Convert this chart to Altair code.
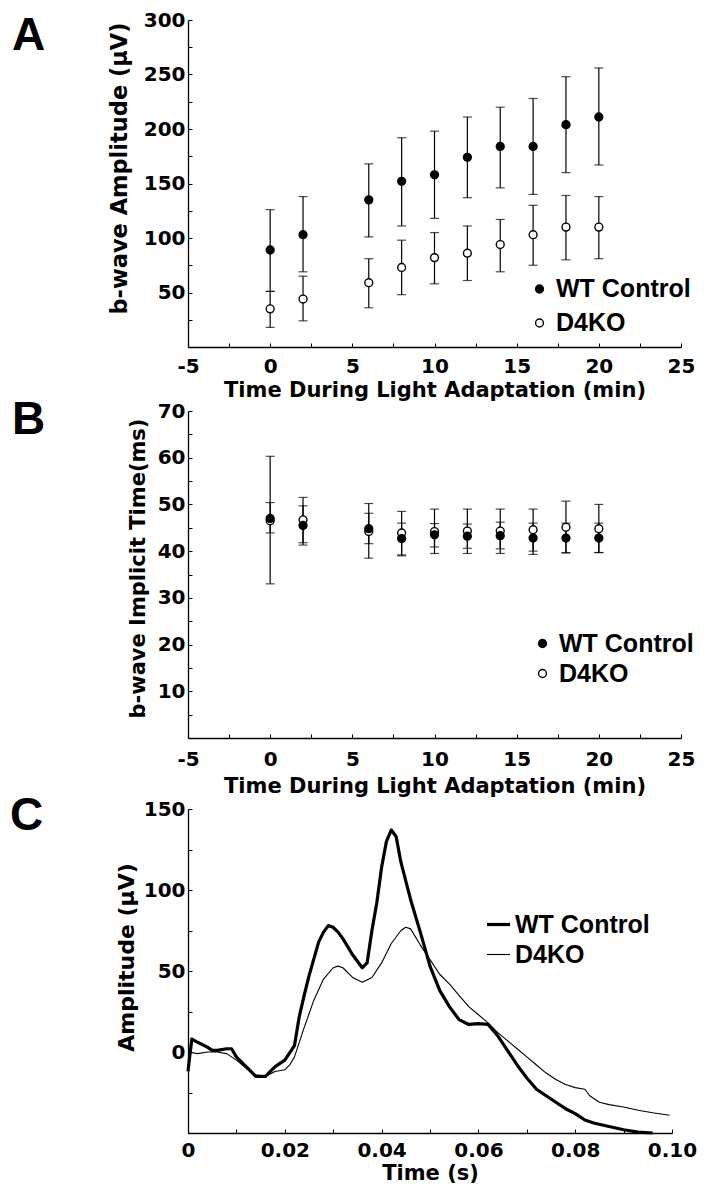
import altair as alt
import pandas as pd

SERIES = ["WT Control", "D4KO"]
PANEL_LABELS = ["A", "B", "C"]

# ---- Panel A: b-wave amplitude ----
TIME_MIN = [0, 2, 6, 8, 10, 12, 14, 16, 18, 20]
A_WT_MEAN = [89, 103, 135, 152, 158, 174, 184, 184, 204, 211]
A_WT_HI = [126, 138, 168, 192, 198, 211, 220, 228, 248, 256]
A_WT_LO = [51, 69, 101, 111, 118, 137, 146, 140, 160, 167]
A_KO_MEAN = [35, 44, 59, 73, 82, 86, 94, 103, 110, 110]
A_KO_HI = [51, 65, 81, 98, 105, 111, 117, 130, 139, 138]
A_KO_LO = [18, 24, 36, 48, 58, 61, 69, 75, 80, 81]

# ---- Panel B: b-wave implicit time ----
B_WT_MEAN = [47.0, 45.5, 44.8, 42.7, 43.5, 43.2, 43.3, 42.8, 42.8, 42.8]
B_WT_HI = [50.4, 49.7, 48.1, 46.0, 45.9, 45.8, 46.2, 46.0, 46.0, 46.0]
B_WT_LO = [43.9, 41.3, 41.6, 39.0, 40.9, 40.6, 40.5, 40.0, 39.7, 39.7]
B_KO_MEAN = [46.5, 46.7, 44.2, 43.9, 44.2, 44.3, 44.3, 44.6, 45.1, 44.8]
B_KO_HI = [60.3, 51.5, 50.2, 48.5, 49.0, 49.0, 49.0, 49.0, 50.7, 50.0]
B_KO_LO = [33.0, 41.8, 38.5, 39.2, 39.5, 39.5, 39.5, 39.3, 39.6, 39.7]

# ---- Panel C: ERG traces ----
C_T_WT = [0.0, 0.0003, 0.0008, 0.002, 0.004, 0.005, 0.006, 0.008, 0.009, 0.010,
          0.012, 0.014, 0.016, 0.018, 0.020, 0.022, 0.023, 0.024, 0.025, 0.027,
          0.028, 0.029, 0.030, 0.031, 0.032, 0.034, 0.036, 0.037, 0.038, 0.039,
          0.040, 0.041, 0.042, 0.043, 0.044, 0.046, 0.048, 0.050, 0.052, 0.054,
          0.056, 0.058, 0.060, 0.062, 0.064, 0.066, 0.068, 0.070, 0.072, 0.074,
          0.076, 0.078, 0.080, 0.082, 0.084, 0.087, 0.090, 0.093, 0.096]
C_A_WT = [-12, -4, 8, 6, 3, 1, 1, 2, 2, -3,
          -9, -15, -15, -9, -5, 4, 22, 35, 47, 68,
          74, 78, 77, 74, 70, 60, 52, 55, 75, 92,
          114, 130, 137, 133, 117, 94, 74, 53, 38, 28,
          20, 17, 17.5, 17, 10, 1, -8, -16, -23, -27,
          -31, -35, -38, -42, -44, -46, -48, -49.5, -50]
C_T_KO = [0.0, 0.002, 0.004, 0.006, 0.008, 0.010, 0.012, 0.014, 0.016, 0.018,
          0.020, 0.021, 0.022, 0.024, 0.026, 0.028, 0.030, 0.031, 0.032, 0.034,
          0.036, 0.038, 0.040, 0.042, 0.044, 0.045, 0.046, 0.048, 0.050, 0.052,
          0.054, 0.056, 0.058, 0.060, 0.062, 0.064, 0.066, 0.068, 0.070, 0.072,
          0.074, 0.076, 0.078, 0.080, 0.082, 0.083, 0.085, 0.087, 0.090, 0.093,
          0.096, 0.0995]
C_A_KO = [0, -1, 0, 0, -1, -5, -10, -14, -15, -12,
          -11, -8, -3, 15, 32, 45, 52, 53, 52, 46,
          43, 46, 55, 67, 75, 77, 76, 66, 57, 48,
          42, 35, 28, 23, 18, 12, 7, 2, -3, -8,
          -13, -17, -20, -22, -23, -27, -31, -32.5, -34, -36,
          -37.5, -39]

# axis tick values (every tick; labels shown only on the major ones)
AB_X_TICKS = [-5, -2.5, 0, 2.5, 5, 7.5, 10, 12.5, 15, 17.5, 20, 22.5, 25]
A_Y_TICKS = [0, 25, 50, 75, 100, 125, 150, 175, 200, 225, 250, 275, 300]
B_Y_TICKS = [0, 5, 10, 15, 20, 25, 30, 35, 40, 45, 50, 55, 60, 65, 70]
C_X_TICKS = [0, 0.01, 0.02, 0.03, 0.04, 0.05, 0.06, 0.07, 0.08, 0.09, 0.10]
C_Y_TICKS = [-50, -25, 0, 25, 50, 75, 100, 125, 150]

FA = "DejaVu Sans"
FL = "Liberation Sans"

W_AB, H_A, H_B = 493, 327, 327
W_C, H_C = 484, 324
INWARD = {"expr": "-4"}


def err_df(wm, wl, wh, km, kl, kh):
    rows = []
    for s, m, lo, hi in [(SERIES[1], km, kl, kh), (SERIES[0], wm, wl, wh)]:
        for t, a, b, c in zip(TIME_MIN, m, lo, hi):
            rows.append({"t": t, "mean": a, "lo": b, "hi": c, "series": s})
    return pd.DataFrame(rows)


def x_axis(vals, title, expr, lpad, tpad):
    return alt.Axis(orient="bottom", values=vals, ticks=True, tickSize=INWARD,
                    tickColor="black", tickWidth=1,
                    domain=True, domainColor="black", domainWidth=1.3, grid=False,
                    labelFont=FA, labelFontSize=20, labelFontWeight="bold",
                    labelColor="black", labelPadding=lpad, labelOverlap=False,
                    labelFlush=False, labelExpr=expr,
                    title=title, titleFont=FA, titleFontSize=21,
                    titleFontWeight="bold", titleColor="black", titlePadding=tpad)


def y_axis(vals, expr, title, tsize, tx, ty, lpad):
    return alt.Axis(orient="left", values=vals, ticks=True, tickSize=INWARD,
                    tickColor="black", tickWidth=1,
                    domain=True, domainColor="black", domainWidth=1.3, grid=False,
                    labelFont=FA, labelFontSize=20, labelFontWeight="bold",
                    labelColor="black", labelPadding=lpad, labelOverlap=False,
                    labelFlush=False, labelExpr=expr,
                    title=title, titleFont=FA, titleFontSize=tsize,
                    titleFontWeight="bold", titleColor="black",
                    titleX=tx, titleY=ty, titleAngle=270, titleAlign="center",
                    titleBaseline="alphabetic")


def point_legend(lx, ly, rowpad):
    return alt.Legend(title=None, orient="none", legendX=lx, legendY=ly,
                      labelFont=FL, labelFontSize=25, labelFontWeight="bold",
                      labelColor="black", symbolStrokeColor="black",
                      symbolStrokeWidth=1.4, symbolSize=62, symbolType="circle",
                      rowPadding=rowpad, labelOffset=4, padding=0)


def panel_label(i, x, y):
    return alt.Chart(alt.Data(values=[{"p": PANEL_LABELS[i]}])).mark_text(
        align="left", baseline="alphabetic", font=FL, fontSize=46,
        fontWeight="bold", color="black"
    ).encode(text="p:N", x=alt.value(x), y=alt.value(y))


def err_panel(df, ydom, yticks, yexpr, ytitle, tsize, tx, ty, H, legend,
              li, lx, ly, xlpad, xtpad):
    xs = alt.Scale(domain=[-5, 25], nice=False, zero=False)
    ys = alt.Scale(domain=ydom, nice=False, zero=False)
    base = alt.Chart(df)
    bars = base.mark_rule(color="black", strokeWidth=1.2).encode(
        x=alt.X("t:Q", scale=xs, axis=None),
        y=alt.Y("lo:Q", scale=ys, axis=None),
        y2="hi:Q",
    )
    cap_lo = base.mark_tick(orient="horizontal", size=9, thickness=1.2, color="black").encode(
        x=alt.X("t:Q", axis=None), y=alt.Y("lo:Q", axis=None))
    cap_hi = base.mark_tick(orient="horizontal", size=9, thickness=1.2, color="black").encode(
        x=alt.X("t:Q", axis=None), y=alt.Y("hi:Q", axis=None))
    pts = base.mark_point(shape="circle", size=62, stroke="black", strokeWidth=1.4,
                          opacity=1, fillOpacity=1).encode(
        x=alt.X("t:Q", scale=xs,
                axis=x_axis(AB_X_TICKS, "Time During Light Adaptation (min)",
                            "datum.value % 5 == 0 ? '' + datum.value : ''", xlpad, xtpad)),
        y=alt.Y("mean:Q", scale=ys, axis=y_axis(yticks, yexpr, ytitle, tsize, tx, ty, 7)),
        fill=alt.Fill("series:N", scale=alt.Scale(domain=SERIES, range=["black", "white"]),
                      legend=legend),
    )
    return alt.layer(bars, cap_lo, cap_hi, pts, panel_label(li, lx, ly)).resolve_axis(
        x="independent", y="independent").properties(width=W_AB, height=H)


dfA = err_df(A_WT_MEAN, A_WT_LO, A_WT_HI, A_KO_MEAN, A_KO_LO, A_KO_HI)
dfB = err_df(B_WT_MEAN, B_WT_LO, B_WT_HI, B_KO_MEAN, B_KO_LO, B_KO_HI)

chartA = err_panel(dfA, [0, 300], A_Y_TICKS,
                   "datum.value % 50 == 0 && datum.value > 0 ? datum.label : ''",
                   "b-wave Amplitude (μV)", 22.5, -62, 148, H_A,
                   point_legend(339, 256.5, 8), 0, -176, 30, 13, 3)
chartB = err_panel(dfB, [0, 70], B_Y_TICKS,
                   "datum.value % 10 == 0 && datum.value > 0 ? datum.label : ''",
                   "b-wave Implicit Time(ms)", 21, -44, 157, H_B,
                   point_legend(342, 220, 4), 1, -176, 23, 15, 6)

rows = []
for t, a in zip(C_T_WT, C_A_WT):
    rows.append({"time": t, "amp": a, "series": SERIES[0]})
for t, a in zip(C_T_KO, C_A_KO):
    rows.append({"time": t, "amp": a, "series": SERIES[1]})
dfC = pd.DataFrame(rows)

legC = alt.Legend(title=None, orient="none", legendX=297, legendY=102,
                  labelFont=FL, labelFontSize=25, labelFontWeight="bold",
                  labelColor="black", symbolStrokeColor="black", symbolType="stroke",
                  symbolSize=530, rowPadding=4, labelOffset=3, padding=0)
xsC = alt.Scale(domain=[0, 0.1], nice=False, zero=False)
ysC = alt.Scale(domain=[-50, 150], nice=False, zero=False)
swC = alt.Scale(domain=SERIES, range=[3.2, 1.1])

C_X_EXPR = ("round(datum.value * 100) % 2 == 0 ? "
            "(datum.value == 0 ? '0' : format(datum.value, '.2f')) : ''")
C_Y_EXPR = "datum.value % 50 == 0 && datum.value >= 0 ? datum.label : ''"

thin = alt.Chart(dfC).transform_filter(alt.datum.series == SERIES[1]).mark_line(
    color="black", strokeJoin="round").encode(
    x=alt.X("time:Q", scale=xsC, axis=x_axis(C_X_TICKS, "Time (s)", C_X_EXPR, 11, 2)),
    y=alt.Y("amp:Q", scale=ysC,
            axis=y_axis(C_Y_TICKS, C_Y_EXPR, "Amplitude (μV)", 22, -55, 148, 7)),
    strokeWidth=alt.StrokeWidth("series:N", scale=swC, legend=legC),
)
thick = alt.Chart(dfC).transform_filter(alt.datum.series == SERIES[0]).mark_line(
    color="black", strokeJoin="round").encode(
    x=alt.X("time:Q", scale=xsC, axis=x_axis(C_X_TICKS, "Time (s)", C_X_EXPR, 11, 2)),
    y=alt.Y("amp:Q", scale=ysC,
            axis=y_axis(C_Y_TICKS, C_Y_EXPR, "Amplitude (μV)", 22, -55, 148, 7)),
    strokeWidth=alt.StrokeWidth("series:N", scale=swC, legend=legC),
)
chartC = alt.layer(thin, thick, panel_label(2, -178, 21)).properties(width=W_C, height=H_C)

chart = alt.vconcat(chartA, chartB, chartC, spacing=-3).resolve_scale(
    fill="independent", strokeWidth="independent").resolve_legend(
    fill="independent", strokeWidth="independent").properties(
    padding={"left": 2, "top": 2, "right": 0, "bottom": 0},
    background="white").configure_view(stroke=None)

chart.save("out.html", embed_options={"renderer": "svg", "actions": False})
